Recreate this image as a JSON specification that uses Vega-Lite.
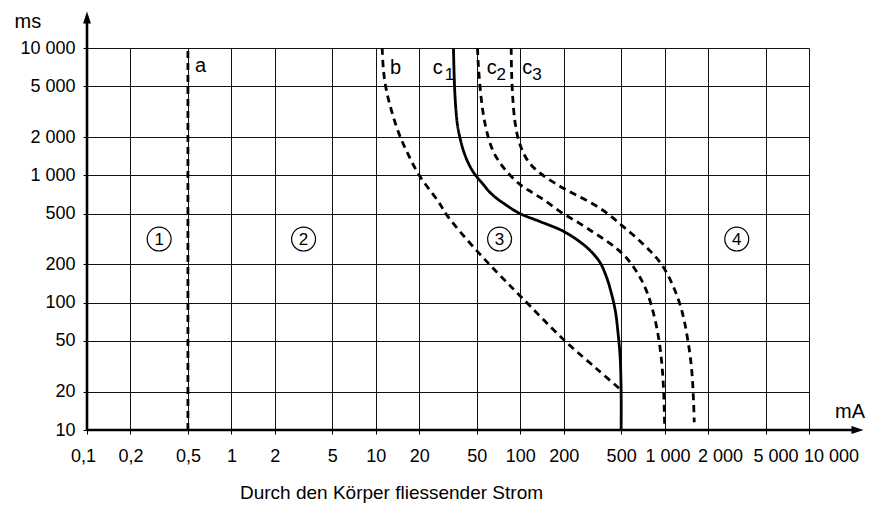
{
  "$schema": "https://vega.github.io/schema/vega-lite/v6.json",
  "width": 722,
  "height": 382,
  "autosize": {"type": "none"},
  "padding": {"left": 87, "top": 48, "right": 71, "bottom": 75},
  "background": "white",
  "config": {"view": {"stroke": null}, "font": "Liberation Sans"},
  "datasets": {
    "curves": [
      {"curve": "a", "style": "dashed", "i": 0, "x": 0.5, "y": 10},
      {"curve": "a", "style": "dashed", "i": 1, "x": 0.5, "y": 10000},
      {"curve": "b", "style": "dashed", "i": 0, "x": 11.07, "y": 10000},
      {"curve": "b", "style": "dashed", "i": 1, "x": 11.3, "y": 6690},
      {"curve": "b", "style": "dashed", "i": 2, "x": 11.85, "y": 4630},
      {"curve": "b", "style": "dashed", "i": 3, "x": 12.83, "y": 3240},
      {"curve": "b", "style": "dashed", "i": 4, "x": 14.33, "y": 2187},
      {"curve": "b", "style": "dashed", "i": 5, "x": 16.5, "y": 1514},
      {"curve": "b", "style": "dashed", "i": 6, "x": 20, "y": 1000},
      {"curve": "b", "style": "dashed", "i": 7, "x": 27.1, "y": 623},
      {"curve": "b", "style": "dashed", "i": 8, "x": 31.6, "y": 474},
      {"curve": "b", "style": "dashed", "i": 9, "x": 50, "y": 256},
      {"curve": "b", "style": "dashed", "i": 10, "x": 70.7, "y": 168.6},
      {"curve": "b", "style": "dashed", "i": 11, "x": 100, "y": 113},
      {"curve": "b", "style": "dashed", "i": 12, "x": 202, "y": 50.6},
      {"curve": "b", "style": "dashed", "i": 13, "x": 346, "y": 29.6},
      {"curve": "b", "style": "dashed", "i": 14, "x": 490, "y": 21},
      {"curve": "c1", "style": "solid", "i": 0, "x": 34.5, "y": 10000},
      {"curve": "c1", "style": "solid", "i": 1, "x": 34.8, "y": 6690},
      {"curve": "c1", "style": "solid", "i": 2, "x": 35.2, "y": 4630},
      {"curve": "c1", "style": "solid", "i": 3, "x": 35.9, "y": 3240},
      {"curve": "c1", "style": "solid", "i": 4, "x": 36.8, "y": 2478},
      {"curve": "c1", "style": "solid", "i": 5, "x": 38.3, "y": 1963},
      {"curve": "c1", "style": "solid", "i": 6, "x": 40.4, "y": 1571},
      {"curve": "c1", "style": "solid", "i": 7, "x": 43.6, "y": 1257},
      {"curve": "c1", "style": "solid", "i": 8, "x": 47.8, "y": 1044},
      {"curve": "c1", "style": "solid", "i": 9, "x": 54.5, "y": 868},
      {"curve": "c1", "style": "solid", "i": 10, "x": 63.7, "y": 709},
      {"curve": "c1", "style": "solid", "i": 11, "x": 79.4, "y": 587},
      {"curve": "c1", "style": "solid", "i": 12, "x": 100, "y": 500},
      {"curve": "c1", "style": "solid", "i": 13, "x": 136.8, "y": 434},
      {"curve": "c1", "style": "solid", "i": 14, "x": 196, "y": 367},
      {"curve": "c1", "style": "solid", "i": 15, "x": 254.5, "y": 305},
      {"curve": "c1", "style": "solid", "i": 16, "x": 306, "y": 256},
      {"curve": "c1", "style": "solid", "i": 17, "x": 357, "y": 207},
      {"curve": "c1", "style": "solid", "i": 18, "x": 397, "y": 157.5},
      {"curve": "c1", "style": "solid", "i": 19, "x": 429, "y": 117.3},
      {"curve": "c1", "style": "solid", "i": 20, "x": 456, "y": 86},
      {"curve": "c1", "style": "solid", "i": 21, "x": 475, "y": 59.1},
      {"curve": "c1", "style": "solid", "i": 22, "x": 492, "y": 37.6},
      {"curve": "c1", "style": "solid", "i": 23, "x": 500, "y": 20},
      {"curve": "c1", "style": "solid", "i": 24, "x": 500, "y": 10},
      {"curve": "c2", "style": "dashed", "i": 0, "x": 50.6, "y": 10000},
      {"curve": "c2", "style": "dashed", "i": 1, "x": 51.3, "y": 7339},
      {"curve": "c2", "style": "dashed", "i": 2, "x": 52.7, "y": 5000},
      {"curve": "c2", "style": "dashed", "i": 3, "x": 55.0, "y": 3240},
      {"curve": "c2", "style": "dashed", "i": 4, "x": 58.4, "y": 2266},
      {"curve": "c2", "style": "dashed", "i": 5, "x": 63.7, "y": 1630},
      {"curve": "c2", "style": "dashed", "i": 6, "x": 70.7, "y": 1304},
      {"curve": "c2", "style": "dashed", "i": 7, "x": 81.2, "y": 1063},
      {"curve": "c2", "style": "dashed", "i": 8, "x": 100, "y": 844},
      {"curve": "c2", "style": "dashed", "i": 9, "x": 120.6, "y": 735},
      {"curve": "c2", "style": "dashed", "i": 10, "x": 147.9, "y": 635},
      {"curve": "c2", "style": "dashed", "i": 11, "x": 197, "y": 503},
      {"curve": "c2", "style": "dashed", "i": 12, "x": 254.5, "y": 423},
      {"curve": "c2", "style": "dashed", "i": 13, "x": 320, "y": 358},
      {"curve": "c2", "style": "dashed", "i": 14, "x": 391, "y": 308},
      {"curve": "c2", "style": "dashed", "i": 15, "x": 463, "y": 267.5},
      {"curve": "c2", "style": "dashed", "i": 16, "x": 535, "y": 230},
      {"curve": "c2", "style": "dashed", "i": 17, "x": 612.5, "y": 189},
      {"curve": "c2", "style": "dashed", "i": 18, "x": 689.5, "y": 151.8},
      {"curve": "c2", "style": "dashed", "i": 19, "x": 763, "y": 117.3},
      {"curve": "c2", "style": "dashed", "i": 20, "x": 830, "y": 85.7},
      {"curve": "c2", "style": "dashed", "i": 21, "x": 888, "y": 61.4},
      {"curve": "c2", "style": "dashed", "i": 22, "x": 934, "y": 42.6},
      {"curve": "c2", "style": "dashed", "i": 23, "x": 967, "y": 28.7},
      {"curve": "c2", "style": "dashed", "i": 24, "x": 988, "y": 18.5},
      {"curve": "c2", "style": "dashed", "i": 25, "x": 1000, "y": 11.2},
      {"curve": "c3", "style": "dashed", "i": 0, "x": 86.6, "y": 10000},
      {"curve": "c3", "style": "dashed", "i": 1, "x": 87.1, "y": 6690},
      {"curve": "c3", "style": "dashed", "i": 2, "x": 88.6, "y": 4234},
      {"curve": "c3", "style": "dashed", "i": 3, "x": 91.7, "y": 2710},
      {"curve": "c3", "style": "dashed", "i": 4, "x": 96.6, "y": 1963},
      {"curve": "c3", "style": "dashed", "i": 5, "x": 104.8, "y": 1514},
      {"curve": "c3", "style": "dashed", "i": 6, "x": 116.9, "y": 1234},
      {"curve": "c3", "style": "dashed", "i": 7, "x": 136.8, "y": 1044},
      {"curve": "c3", "style": "dashed", "i": 8, "x": 165, "y": 901},
      {"curve": "c3", "style": "dashed", "i": 9, "x": 205, "y": 777},
      {"curve": "c3", "style": "dashed", "i": 10, "x": 254.5, "y": 683},
      {"curve": "c3", "style": "dashed", "i": 11, "x": 320, "y": 595},
      {"curve": "c3", "style": "dashed", "i": 12, "x": 403.5, "y": 500},
      {"curve": "c3", "style": "dashed", "i": 13, "x": 495, "y": 412},
      {"curve": "c3", "style": "dashed", "i": 14, "x": 592, "y": 348},
      {"curve": "c3", "style": "dashed", "i": 15, "x": 693, "y": 296},
      {"curve": "c3", "style": "dashed", "i": 16, "x": 803, "y": 251.6},
      {"curve": "c3", "style": "dashed", "i": 17, "x": 919, "y": 211},
      {"curve": "c3", "style": "dashed", "i": 18, "x": 1032, "y": 172.6},
      {"curve": "c3", "style": "dashed", "i": 19, "x": 1134, "y": 138.5},
      {"curve": "c3", "style": "dashed", "i": 20, "x": 1227, "y": 111},
      {"curve": "c3", "style": "dashed", "i": 21, "x": 1307, "y": 89},
      {"curve": "c3", "style": "dashed", "i": 22, "x": 1381, "y": 68.6},
      {"curve": "c3", "style": "dashed", "i": 23, "x": 1443, "y": 51.9},
      {"curve": "c3", "style": "dashed", "i": 24, "x": 1506, "y": 37.6},
      {"curve": "c3", "style": "dashed", "i": 25, "x": 1554, "y": 26.3},
      {"curve": "c3", "style": "dashed", "i": 26, "x": 1586, "y": 17.0},
      {"curve": "c3", "style": "dashed", "i": 27, "x": 1604, "y": 11.5}
    ],
    "axislines": [
      {"x": 0.1, "x2": 21670, "y": 10, "y2": 10},
      {"x": 0.1, "x2": 0.1, "y": 10, "y2": 17370}
    ],
    "arrows": [
      {"x": 21670, "y": 10, "shape": "M-1,-0.66L1,0L-1,0.66Z"},
      {"x": 0.1, "y": 17370, "shape": "M-0.66,1L0,-1L0.66,1Z"}
    ],
    "zones": [
      {"x": 0.316, "y": 316, "label": "1"},
      {"x": 3.16, "y": 316, "label": "2"},
      {"x": 72, "y": 316, "label": "3"},
      {"x": 3160, "y": 316, "label": "4"}
    ],
    "curvelabels": [
      {"x": 0.56, "y": 6479, "label": "a"},
      {"x": 12.54, "y": 6250, "label": "b"},
      {"x": 24.8, "y": 6250, "label": "c"},
      {"x": 58.6, "y": 6250, "label": "c"},
      {"x": 103.4, "y": 6250, "label": "c"}
    ],
    "sublabels": [
      {"x": 30.0, "y": 5609, "label": "1"},
      {"x": 68.5, "y": 5609, "label": "2"},
      {"x": 121.0, "y": 5609, "label": "3"}
    ],
    "unitlabels": [
      {"x": 15136, "y": 12.43, "label": "mA"}
    ]
  },
  "encoding": {
    "x": {
      "field": "x",
      "type": "quantitative",
      "scale": {"type": "log", "domain": [0.1, 10000], "nice": false},
      "axis": {
        "values": [0.1, 0.2, 0.5, 1, 2, 5, 10, 20, 50, 100, 200, 500, 1000, 2000, 5000, 10000],
        "labelExpr": "replace(replace(format(datum.value, ',~g'), ',', ' '), '.', ',')",
        "domain": false,
        "grid": true,
        "gridColor": "#111",
        "gridWidth": 1,
        "gridOpacity": 1,
        "ticks": true,
        "tickColor": "#000",
        "tickSize": 4,
        "labelPadding": 13,
        "labelFontSize": 18,
        "labelColor": "#000",
        "labelFont": "Liberation Sans",
        "labelFlush": false,
        "labelOverlap": false,
        "labelOffset": {
          "condition": [
            {"test": "datum.value == 10000", "value": 22},
            {"test": "datum.value == 5000", "value": 10},
            {"test": "datum.value == 2000", "value": 12},
            {"test": "datum.value == 1000", "value": 3},
            {"test": "datum.value == 0.1", "value": -4}
          ],
          "value": 0
        },
        "title": "Durch den Körper fliessender Strom",
        "titleFont": "Liberation Sans",
        "titleFontSize": 19,
        "titleFontWeight": "normal",
        "titleColor": "#000",
        "titleX": 304,
        "titleY": 68,
        "titleAlign": "center",
        "titleBaseline": "alphabetic"
      }
    },
    "y": {
      "field": "y",
      "type": "quantitative",
      "scale": {"type": "log", "domain": [10, 10000], "nice": false},
      "axis": {
        "values": [10, 20, 50, 100, 200, 500, 1000, 2000, 5000, 10000],
        "labelExpr": "replace(replace(format(datum.value, ',~g'), ',', ' '), '.', ',')",
        "domain": false,
        "grid": true,
        "gridColor": "#111",
        "gridWidth": 1,
        "gridOpacity": 1,
        "ticks": true,
        "tickColor": "#000",
        "tickSize": 4,
        "labelPadding": 8,
        "labelFontSize": 18,
        "labelColor": "#000",
        "labelFont": "Liberation Sans",
        "labelFlush": false,
        "labelOverlap": false,
        "title": "ms",
        "titleFont": "Liberation Sans",
        "titleFontSize": 20,
        "titleFontWeight": "normal",
        "titleColor": "#000",
        "titleAngle": 0,
        "titleX": -73,
        "titleY": -21,
        "titleAlign": "left",
        "titleBaseline": "alphabetic"
      }
    }
  },
  "layer": [
    {
      "data": {"name": "curves"},
      "mark": {"type": "line", "interpolate": "catmull-rom", "strokeWidth": 2.8, "color": "#000"},
      "encoding": {
        "detail": {"field": "curve", "type": "nominal"},
        "order": {"field": "i", "type": "quantitative"},
        "strokeDash": {
          "field": "style",
          "type": "nominal",
          "scale": {"domain": ["solid", "dashed"], "range": [[1, 0], [7, 5]]},
          "legend": null
        }
      }
    },
    {
      "data": {"name": "axislines"},
      "mark": {"type": "rule", "strokeWidth": 2.6, "color": "#000"},
      "encoding": {
        "x2": {"field": "x2"},
        "y2": {"field": "y2"}
      }
    },
    {
      "data": {"name": "arrows"},
      "mark": {"type": "point", "filled": true, "size": 144, "color": "#000", "opacity": 1},
      "encoding": {
        "shape": {"field": "shape", "type": "nominal", "scale": null}
      }
    },
    {
      "data": {"name": "zones"},
      "mark": {"type": "point", "shape": "circle", "size": 572, "fill": "white", "fillOpacity": 1, "stroke": "#000", "strokeWidth": 1.2, "opacity": 1}
    },
    {
      "data": {"name": "zones"},
      "mark": {"type": "text", "fontSize": 17, "align": "center", "baseline": "middle", "dy": 1, "color": "#000", "font": "Liberation Sans"},
      "encoding": {"text": {"field": "label"}}
    },
    {
      "data": {"name": "curvelabels"},
      "mark": {"type": "text", "fontSize": 20, "align": "left", "baseline": "alphabetic", "color": "#000", "font": "Liberation Sans"},
      "encoding": {"text": {"field": "label"}}
    },
    {
      "data": {"name": "sublabels"},
      "mark": {"type": "text", "fontSize": 17, "align": "left", "baseline": "alphabetic", "color": "#000", "font": "Liberation Sans"},
      "encoding": {"text": {"field": "label"}}
    },
    {
      "data": {"name": "unitlabels"},
      "mark": {"type": "text", "fontSize": 20, "align": "left", "baseline": "alphabetic", "color": "#000", "font": "Liberation Sans"},
      "encoding": {"text": {"field": "label"}}
    }
  ]
}
